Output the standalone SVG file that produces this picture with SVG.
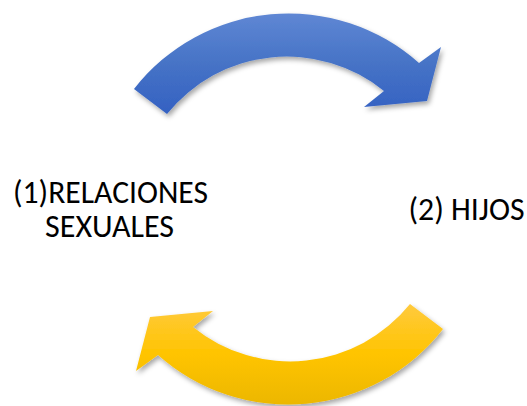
<svg xmlns="http://www.w3.org/2000/svg" width="527" height="406" viewBox="0 0 527 406">
  <style>
    .lbl { font-family: Carlito, Calibri, "Liberation Sans", Arial, sans-serif; font-size: 32px; fill: #000000; }
  </style>
  <defs>
    <linearGradient id="gBlue" x1="0" y1="0" x2="0" y2="1">
      <stop offset="0" stop-color="#5F87D4"/>
      <stop offset="0.5" stop-color="#4673C6"/>
      <stop offset="1" stop-color="#3461C2"/>
    </linearGradient>
    <linearGradient id="gYellow" x1="0" y1="1" x2="0" y2="0">
      <stop offset="0" stop-color="#FFCA3E"/>
      <stop offset="0.5" stop-color="#FFC400"/>
      <stop offset="1" stop-color="#ECB700"/>
    </linearGradient>
    <filter id="shadow" x="-10%" y="-10%" width="120%" height="130%">
      <feDropShadow dx="2" dy="3" stdDeviation="2.5" flood-color="#000000" flood-opacity="0.35"/>
    </filter>
    <path id="arrowShape" d="M134,89 A196,196 0 0 1 419,63 L441,47 L427,101 L364,107 L384,91 A154,154 0 0 0 167,114 Z"/>
  </defs>

  <g id="connectors">
    <g id="arrow-top" filter="url(#shadow)">
      <use href="#arrowShape" fill="url(#gBlue)"/>
    </g>
    <g id="arrow-bottom" filter="url(#shadow)">
      <use href="#arrowShape" fill="url(#gYellow)" transform="rotate(180 288.5 209)"/>
    </g>
  </g>

  <g id="node-relaciones">
    <text class="lbl" x="13" y="203.3" textLength="195" lengthAdjust="spacingAndGlyphs">(1)RELACIONES</text>
    <text class="lbl" x="45" y="236.7" textLength="129" lengthAdjust="spacingAndGlyphs">SEXUALES</text>
  </g>

  <g id="node-hijos">
    <text class="lbl" x="408.5" y="220" textLength="116" lengthAdjust="spacingAndGlyphs">(2) HIJOS</text>
  </g>
</svg>
